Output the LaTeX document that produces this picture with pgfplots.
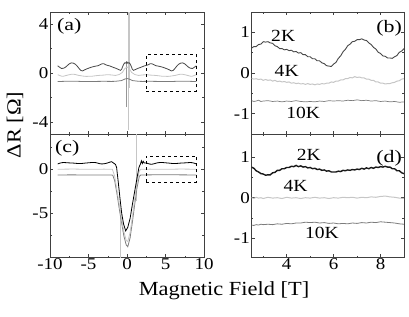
\documentclass[border=0pt]{standalone}
\usepackage{fontspec}
\setmainfont{Liberation Serif}
\usepackage{graphicx}
\usepackage{pgfplots}
\pgfplotsset{compat=1.18}
\definecolor{dk}{HTML}{474747}
\definecolor{lt}{HTML}{C6C6C6}
\definecolor{md}{HTML}{7C7C7C}
\newcommand{\wide}[2]{\scalebox{#1}[1]{#2}}
\tikzset{
 plab/.style={inner sep=0pt, font=\fontsize{17.5}{17.5}\selectfont},
 clab/.style={font=\fontsize{17}{17}\selectfont},
}
\pgfplotsset{
 panel/.style={scale only axis, anchor=south west,
  axis line style={black!75, line width=0.7pt},
  tick align=inside, major tick length=3pt, minor tick length=1.8pt,
  every tick/.style={black!75, line width=0.5pt},
  tick label style={font=\fontsize{16.5}{16.5}\selectfont, inner sep=1.5pt},
  xticklabel={\wide{1.15}{\pgfmathprintnumber{\tick}}},
  yticklabel={\wide{1.15}{\pgfmathprintnumber{\tick}}},
  /pgf/number format/assume math mode=true,
  every axis plot/.append style={line width=0.8pt}},
 leftp/.style={panel, width=154pt, xmin=-10, xmax=10, xtick={-10,-5,0,5,10}, minor xtick={-7.5,-2.5,2.5,7.5}},
 rightp/.style={panel, width=152.5pt, xmin=2.5, xmax=9, xtick={4,6,8}, minor xtick={3,5,7,9}, ytick={-1,0,1}, minor ytick={-0.5,0.5}},
}
\begin{document}
\begin{tikzpicture}
\useasboundingbox (0,0) rectangle (409pt,316pt);
% (a)
\begin{axis}[leftp, at={(50pt,182pt)}, height=122pt, ymin=-5, ymax=5, ytick={-4,0,4}, minor ytick={-2,2}, xticklabels={}]
\addplot[lt, line width=0.6pt] coordinates {(0.15,-4.7)(0.15,5.2)};
\addplot[lt, line width=0.6pt] coordinates {(0.3,-1.2)(0.3,5.2)};
\addplot[md!80, line width=0.6pt] coordinates {(-0.13,-2.8)(-0.13,1.0)};
\addplot[lt] coordinates {(-9,-0.14)(-8.75,-0.2)(-8.5,-0.26)(-8.25,-0.26)(-8,-0.22)(-7.75,-0.18)(-7.5,-0.14)(-7.25,-0.11)(-7,-0.1)(-6.75,-0.12)(-6.5,-0.16)(-6.25,-0.2)(-6,-0.22)(-5.75,-0.25)(-5.5,-0.27)(-5.25,-0.28)(-5,-0.27)(-4.75,-0.26)(-4.5,-0.26)(-4.25,-0.24)(-4,-0.22)(-3.75,-0.2)(-3.5,-0.19)(-3.25,-0.18)(-3,-0.17)(-2.75,-0.15)(-2.5,-0.14)(-2,-0.16)(-1.5,-0.2)(-1,-0.12)(-0.6,0.05)(-0.3,0.35)(0,0.5)(0.3,0.35)(0.6,0.05)(1,-0.12)(1.5,-0.2)(2,-0.16)(2.5,-0.14)(2.75,-0.15)(3,-0.17)(3.25,-0.18)(3.5,-0.19)(3.75,-0.2)(4,-0.22)(4.25,-0.24)(4.5,-0.26)(4.75,-0.26)(5,-0.27)(5.25,-0.28)(5.5,-0.27)(5.75,-0.25)(6,-0.22)(6.25,-0.2)(6.5,-0.16)(6.75,-0.12)(7,-0.1)(7.25,-0.11)(7.5,-0.14)(7.75,-0.18)(8,-0.22)(8.25,-0.26)(8.5,-0.26)(8.75,-0.2)(9,-0.14)};
\addplot[md] coordinates {(-9,-0.7)(-8,-0.68)(-7,-0.67)(-6,-0.69)(-5,-0.7)(-4,-0.69)(-3,-0.68)(-2,-0.69)(-1.5,-0.68)(-0.7,-0.62)(-0.3,-0.5)(0,-0.45)(0.3,-0.5)(0.7,-0.62)(1.5,-0.68)(2,-0.69)(3,-0.68)(4,-0.69)(5,-0.7)(6,-0.69)(7,-0.67)(8,-0.68)(9,-0.7)};
\addplot[dk] coordinates {(-9,0.59)(-8.75,0.47)(-8.5,0.37)(-8.25,0.39)(-8,0.47)(-7.75,0.61)(-7.5,0.75)(-7.25,0.83)(-7,0.81)(-6.75,0.74)(-6.5,0.59)(-6.25,0.39)(-6,0.21)(-5.75,0.17)(-5.5,0.26)(-5.25,0.33)(-5,0.39)(-4.75,0.45)(-4.5,0.5)(-4.25,0.54)(-4,0.57)(-3.75,0.6)(-3.5,0.68)(-3.25,0.75)(-3,0.76)(-2.75,0.67)(-2.5,0.62)(-2.25,0.58)(-2,0.52)(-1.75,0.45)(-1.5,0.4)(-1.25,0.33)(-1,0.26)(-0.85,0.22)(-0.7,0.3)(-0.55,0.55)(-0.4,0.75)(-0.25,0.85)(-0.1,0.8)(0,0.9)(0.1,0.8)(0.25,0.85)(0.4,0.75)(0.55,0.55)(0.7,0.3)(0.85,0.22)(1,0.26)(1.25,0.33)(1.5,0.4)(1.75,0.45)(2,0.52)(2.25,0.58)(2.5,0.62)(2.75,0.67)(3,0.76)(3.25,0.75)(3.5,0.68)(3.75,0.6)(4,0.57)(4.25,0.54)(4.5,0.5)(4.75,0.45)(5,0.39)(5.25,0.33)(5.5,0.26)(5.75,0.17)(6,0.21)(6.25,0.39)(6.5,0.59)(6.75,0.74)(7,0.81)(7.25,0.83)(7.5,0.75)(7.75,0.61)(8,0.47)(8.25,0.39)(8.5,0.37)(8.75,0.47)(9,0.59)};
\addplot[black, dashed, line width=0.9pt] coordinates {(2.5,-1.5)(9,-1.5)(9,1.5)(2.5,1.5)(2.5,-1.5)};
\node[plab, anchor=north west] at ([xshift=7pt,yshift=-6pt]rel axis cs:0,1) {\wide{1.25}{(a)}};
\end{axis}
% (c)
\begin{axis}[leftp, at={(50pt,58.7pt)}, height=123.3pt, ymin=-10, ymax=4, ytick={-5,0}, minor ytick={-7.5,-2.5,2.5}]
\addplot[lt, line width=0.6pt] coordinates {(1.27,-3.6)(1.27,4.2)};
\addplot[lt, line width=0.6pt] coordinates {(-0.9,-5.4)(-0.9,-10.2)};
\addplot[md] coordinates {(-9,-0.65)(-7,-0.64)(-5,-0.66)(-3,-0.65)(-2,-0.66)(-1.85,-0.68)(-1.6,-1.3)(-1.3,-2.8)(-1,-4.5)(-0.7,-6.1)(-0.4,-7.6)(-0.1,-8.6)(0.1,-8.8)(0.4,-7.8)(0.7,-6.0)(1,-4.0)(1.3,-2.1)(1.6,-0.8)(1.8,-0.65)(2,-0.65)(3,-0.64)(5,-0.62)(7,-0.64)(9,-0.65)};
\addplot[lt] coordinates {(-9,0.0)(-7,0.02)(-5,-0.01)(-3,0.01)(-2,0.0)(-1.9,0.0)(-1.6,-0.8)(-1.3,-2.4)(-1,-4.0)(-0.7,-5.7)(-0.4,-7.1)(-0.1,-8.1)(0.1,-8.2)(0.4,-7.2)(0.7,-5.4)(1,-3.4)(1.3,-1.5)(1.6,-0.2)(1.8,0.0)(2,0.0)(3,0.01)(5,-0.01)(7,0.02)(9,0.0)};
\addplot[black] coordinates {(-9,0.6)(-8.75,0.68)(-8.5,0.74)(-8.25,0.76)(-8,0.75)(-7.5,0.72)(-7,0.7)(-6.5,0.66)(-6,0.64)(-5.5,0.69)(-5,0.73)(-4.5,0.77)(-4.25,0.77)(-4,0.74)(-3.5,0.62)(-3.25,0.6)(-3,0.62)(-2.75,0.66)(-2.5,0.72)(-2.25,0.8)(-2,0.86)(-1.75,0.7)(-1.5,0.55)(-1.35,0.2)(-1.13,-1.5)(-0.9,-3.4)(-0.69,-5.0)(-0.45,-6.2)(-0.17,-7.0)(0.1,-6.6)(0.4,-5.6)(0.7,-4.0)(1.0,-2.5)(1.3,-1.0)(1.55,0.2)(1.75,0.6)(1.87,0.95)(2.0,0.65)(2.1,0.9)(2.25,0.7)(2.5,0.72)(2.75,0.64)(3,0.58)(3.25,0.57)(3.5,0.62)(4,0.74)(4.5,0.77)(5,0.73)(5.5,0.69)(6,0.64)(6.5,0.66)(7,0.7)(7.5,0.72)(8,0.75)(8.25,0.76)(8.5,0.74)(8.75,0.68)(9,0.6)};
\addplot[black, dashed, line width=0.9pt] coordinates {(2.5,-1.5)(9,-1.5)(9,1.5)(2.5,1.5)(2.5,-1.5)};
\node[plab, anchor=north west] at ([xshift=5pt,yshift=-6pt]rel axis cs:0,1) {\wide{1.25}{(c)}};
\end{axis}
% (b)
\begin{axis}[rightp, at={(251.5pt,182pt)}, height=122pt, ymin=-1.5, ymax=1.5, xticklabels={}]
\addplot[md, line width=0.7pt] table {
2.5 -0.68
2.6 -0.70
2.7 -0.69
2.8 -0.67
2.9 -0.70
3.0 -0.69
3.2 -0.68
3.4 -0.70
3.6 -0.69
3.8 -0.71
4.0 -0.69
4.2 -0.70
4.4 -0.68
4.6 -0.70
4.8 -0.71
5.0 -0.70
5.2 -0.71
5.4 -0.69
5.6 -0.70
5.8 -0.68
6.0 -0.69
6.2 -0.68
6.4 -0.69
6.6 -0.67
6.8 -0.68
7.0 -0.66
7.2 -0.68
7.4 -0.67
7.6 -0.69
7.8 -0.68
8.0 -0.70
8.2 -0.69
8.4 -0.71
8.6 -0.70
8.8 -0.72
9.0 -0.71
};
\addplot[lt, line width=1pt] table {
2.5 -0.13
2.6 -0.15
2.7 -0.14
2.8 -0.16
2.9 -0.15
3.0 -0.18
3.1 -0.16
3.2 -0.18
3.3 -0.17
3.4 -0.20
3.5 -0.18
3.6 -0.21
3.7 -0.20
3.8 -0.22
3.9 -0.21
4.0 -0.23
4.1 -0.22
4.2 -0.25
4.3 -0.24
4.4 -0.26
4.5 -0.25
4.6 -0.27
4.7 -0.26
4.8 -0.28
4.9 -0.26
5.0 -0.28
5.1 -0.27
5.2 -0.29
5.3 -0.27
5.4 -0.28
5.5 -0.26
5.6 -0.27
5.7 -0.25
5.8 -0.25
5.9 -0.22
6.0 -0.23
6.1 -0.20
6.2 -0.20
6.3 -0.17
6.4 -0.17
6.5 -0.14
6.6 -0.14
6.7 -0.11
6.8 -0.12
6.9 -0.09
7.0 -0.11
7.1 -0.10
7.2 -0.12
7.3 -0.12
7.4 -0.15
7.5 -0.15
7.6 -0.18
7.7 -0.18
7.8 -0.22
7.9 -0.22
8.0 -0.25
8.1 -0.25
8.2 -0.27
8.3 -0.26
8.4 -0.26
8.5 -0.24
8.6 -0.23
8.7 -0.20
8.8 -0.19
8.9 -0.15
9.0 -0.14
};
\addplot[dk, line width=0.9pt] table {
2.5 0.61
2.6 0.65
2.7 0.65
2.8 0.70
2.9 0.71
3.0 0.77
3.1 0.76
3.2 0.77
3.3 0.74
3.4 0.73
3.5 0.67
3.6 0.65
3.7 0.60
3.8 0.60
3.9 0.57
4.0 0.58
4.1 0.55
4.2 0.56
4.3 0.52
4.4 0.53
4.5 0.49
4.6 0.50
4.7 0.45
4.8 0.45
4.9 0.40
5.0 0.40
5.1 0.35
5.2 0.35
5.3 0.30
5.4 0.30
5.5 0.25
5.6 0.23
5.7 0.18
5.8 0.17
5.9 0.16
6.0 0.22
6.1 0.26
6.2 0.36
6.3 0.42
6.4 0.52
6.5 0.58
6.6 0.67
6.7 0.71
6.8 0.77
6.9 0.78
7.0 0.82
7.1 0.82
7.2 0.84
7.3 0.81
7.4 0.80
7.5 0.74
7.6 0.70
7.7 0.63
7.8 0.59
7.9 0.51
8.0 0.48
8.1 0.42
8.2 0.41
8.3 0.37
8.4 0.37
8.5 0.36
8.6 0.40
8.7 0.43
8.8 0.51
8.9 0.54
9.0 0.60
};
\node[clab] at (axis cs:3.85,0.92) {\wide{1.15}{2K}};
\node[clab] at (axis cs:4.0,0.05) {\wide{1.15}{4K}};
\node[clab] at (axis cs:4.7,-0.99) {\wide{1.15}{10K}};
\node[plab, anchor=north east] at ([xshift=-2pt,yshift=-8pt]rel axis cs:1,1) {\wide{1.25}{(b)}};
\end{axis}
% (d)
\begin{axis}[rightp, at={(251.5pt,58.7pt)}, height=123.3pt, ymin=-1.46, ymax=1.56]
\addplot[md, line width=0.8pt] table {
2.5 -0.67
2.6 -0.68
2.7 -0.66
2.8 -0.67
2.9 -0.65
3.0 -0.66
3.2 -0.65
3.4 -0.66
3.6 -0.64
3.8 -0.65
4.0 -0.63
4.2 -0.64
4.4 -0.62
4.6 -0.62
4.8 -0.60
5.0 -0.61
5.2 -0.60
5.4 -0.62
5.6 -0.61
5.8 -0.63
6.0 -0.62
6.2 -0.64
6.4 -0.63
6.6 -0.64
6.8 -0.62
7.0 -0.63
7.2 -0.61
7.4 -0.62
7.6 -0.60
7.8 -0.61
8.0 -0.59
8.2 -0.60
8.4 -0.61
8.6 -0.62
8.8 -0.64
9.0 -0.65
};
\addplot[lt, line width=1pt] table {
2.5 0.00
2.6 -0.02
2.7 0.01
2.8 -0.01
2.9 0.00
3.0 -0.02
3.2 0.01
3.4 -0.01
3.6 0.00
3.8 -0.02
4.0 0.01
4.2 -0.01
4.4 0.00
4.6 -0.02
4.8 0.00
5.0 -0.01
5.2 0.01
5.4 -0.01
5.6 0.00
5.8 -0.02
6.0 0.00
6.2 -0.01
6.4 0.01
6.6 0.00
6.8 0.01
7.0 -0.01
7.2 0.01
7.4 0.00
7.6 0.02
7.8 0.01
8.0 0.03
8.2 0.04
8.4 0.02
8.6 0.01
8.8 -0.01
9.0 -0.02
};
\addplot[black!90, line width=1.4pt] table {
2.5 0.75
2.6 0.72
2.7 0.66
2.8 0.63
2.9 0.59
3.0 0.58
3.1 0.55
3.2 0.56
3.3 0.56
3.4 0.61
3.5 0.62
3.6 0.67
3.7 0.67
3.8 0.71
3.9 0.71
4.0 0.74
4.1 0.74
4.2 0.77
4.3 0.76
4.4 0.79
4.5 0.76
4.6 0.78
4.7 0.75
4.8 0.76
4.9 0.73
5.0 0.74
5.1 0.71
5.2 0.72
5.3 0.69
5.4 0.70
5.5 0.67
5.6 0.68
5.7 0.65
5.8 0.66
5.9 0.63
6.0 0.63
6.1 0.63
6.2 0.65
6.3 0.64
6.4 0.67
6.5 0.66
6.6 0.68
6.7 0.67
6.8 0.69
6.9 0.68
7.0 0.70
7.1 0.69
7.2 0.72
7.3 0.70
7.4 0.73
7.5 0.71
7.6 0.74
7.7 0.72
7.8 0.75
7.9 0.74
8.0 0.76
8.1 0.75
8.2 0.77
8.3 0.75
8.4 0.75
8.5 0.71
8.6 0.71
8.7 0.66
8.8 0.66
8.9 0.61
9.0 0.59
};
\node[clab] at (axis cs:4.94,1.05) {\wide{1.15}{2K}};
\node[clab] at (axis cs:4.38,0.28) {\wide{1.15}{4K}};
\node[clab] at (axis cs:5.5,-0.87) {\wide{1.15}{10K}};
\node[plab, anchor=north east] at ([xshift=-2pt,yshift=-16pt]rel axis cs:1,1) {\wide{1.25}{(d)}};
\end{axis}
\node[rotate=90, font=\fontsize{20}{20}\selectfont] at (15pt,191pt) {\wide{1.12}{ΔR [Ω]}};
\node[font=\fontsize{20}{20}\selectfont] at (224pt,25pt) {\wide{1.12}{Magnetic Field [T]}};
\end{tikzpicture}
\end{document}
